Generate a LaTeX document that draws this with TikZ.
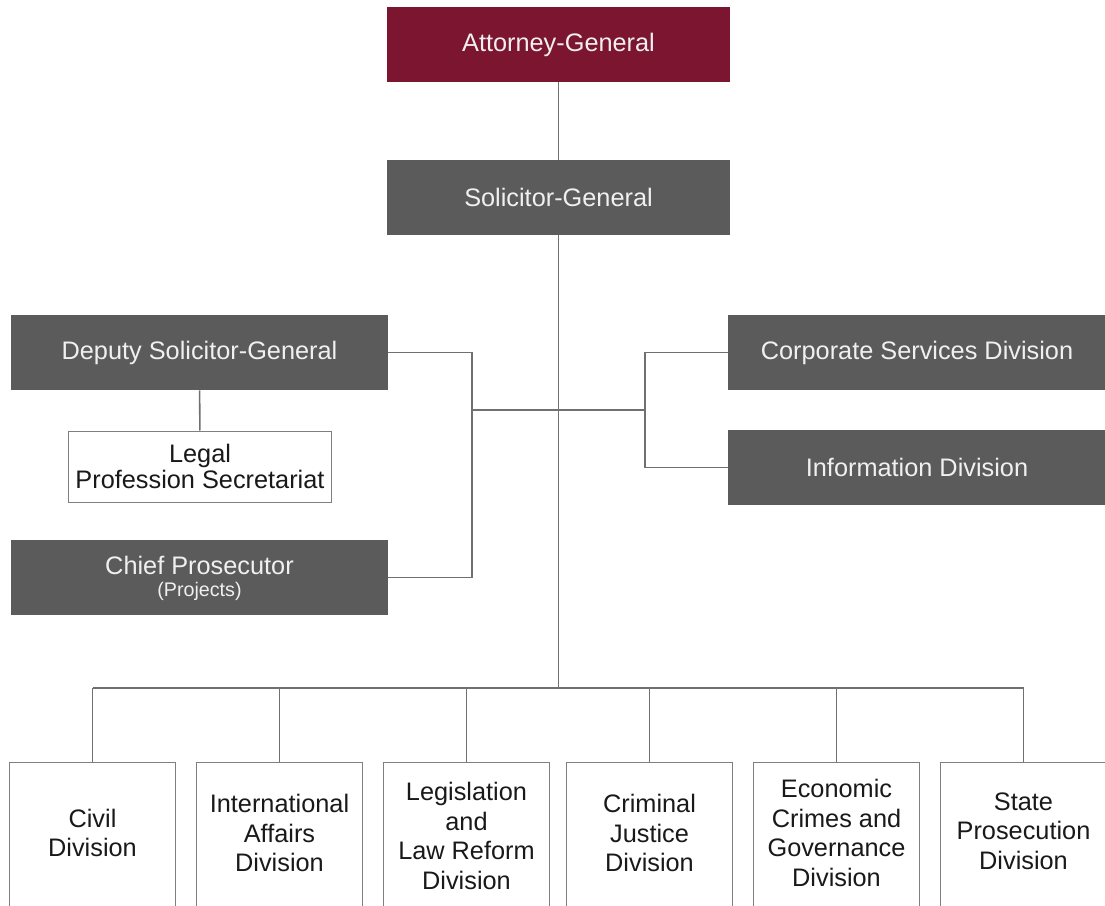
\documentclass[tikz,border=0pt]{standalone}
\usepackage{fontspec}
\setmainfont{Liberation Sans}
\usetikzlibrary{calc}
\definecolor{agred}{HTML}{7C1530}
\definecolor{offgrey}{HTML}{5B5B5B}
\definecolor{linkgrey}{HTML}{707070}
\definecolor{edgegrey}{HTML}{7F7F7F}
\tikzset{
  link/.style={draw=linkgrey, line width=1.1pt},
  agbox/.style={fill=agred, text=white!94!black, minimum width=8.575cm, minimum height=1.875cm,
    font=\fontsize{18}{21}\selectfont},
  sgbox/.style={fill=offgrey, text=white!94!black, minimum width=8.575cm, minimum height=1.875cm,
    font=\fontsize{18}{21}\selectfont},
  widebox/.style={sgbox, minimum width=9.425cm, align=center},
  secbox/.style={draw=edgegrey, line width=0.7pt, fill=white, minimum width=6.55cm, minimum height=1.775cm,
    align=center, font=\fontsize{18}{19}\selectfont, text=black!90},
  divbox/.style={draw=edgegrey, line width=0.7pt, anchor=north, minimum width=4.125cm, minimum height=4.6cm},
  divtext/.style={align=center, font=\fontsize{18}{21}\selectfont, text=black!90}
}
\begin{document}
\begin{tikzpicture}[x=0.025cm,y=-0.025cm]
				%%%%% START %%%%%
				\def\busy{688}
				\def\divtop{762}
				\def\txtoff{71}
				\useasboundingbox (0,0) rectangle (1105,906);

				\node[agbox] (ag) at (558.5,44.5) {Attorney-General};
				\node[sgbox] (sg) at (558.5,197.5) {Solicitor-General};

				\node[widebox] (dsg) at (199.5,352.5) {Deputy Solicitor-General};
				\node[secbox] (lps) at (200,466.5) {Legal\\Profession Secretariat};
				\node[widebox, minimum height=1.875cm] (cp) at (199.5,577.5)
					{\rule{0pt}{14pt}Chief Prosecutor\\[-5pt]{\fontsize{14}{16}\selectfont (Projects)}};

				\node[widebox] (csd) at (917,352.5) {Corporate Services Division};
				\node[widebox] (inf) at (917,467.5) {Information Division};

				\node[divbox] (civ) at (92.5,\divtop) {};
				\node[divbox] (iad) at (279.5,\divtop) {};
				\node[divbox] (lrd) at (466.5,\divtop) {};
				\node[divbox] (cjd) at (649.5,\divtop) {};
				\node[divbox] (ecg) at (836.5,\divtop) {};
				\node[divbox] (spd) at (1023.5,\divtop) {};

				\node[divtext] (civt) at ($(civ.north)+(0,\txtoff)$) {Civil\\Division};
				\node[divtext] (iadt) at ($(iad.north)+(0,\txtoff)$) {International\\Affairs\\Division};
				\node[divtext] (lrdt) at ($(lrd.north)+(0,\txtoff+3)$) {Legislation\\and\\Law Reform\\Division};
				\node[divtext] (cjdt) at ($(cjd.north)+(0,\txtoff)$) {Criminal\\Justice\\Division};
				\node[divtext] (ecgt) at ($(ecg.north)+(0,\txtoff)$) {Economic\\Crimes and\\Governance\\Division};
				\node[divtext] (spdt) at ($(spd.north)+(0,\txtoff-2)$) {State\\Prosecution\\Division};

				\coordinate (lbar) at (472,410);
				\coordinate (rbar) at (645,410);
				\coordinate (trunk) at (558.5,\busy);

				\draw[link] (ag) -- (sg);
				\draw[link] (sg.south) -- (trunk);
				\draw[link] (dsg) -- (lps);
				\draw[link] (dsg.east) -| (lbar) |- (cp.east);
				\draw[link] (lbar) -- (rbar);
				\draw[link] (csd.west) -| (rbar) |- (inf.west);
				\draw[link] (civ.north |- trunk) -- (spd.north |- trunk);
				\foreach \d in {civ,iad,lrd,cjd,ecg,spd}
					\draw[link] (\d.north |- trunk) -- (\d.north);
				%%%%% START %%%%%
\end{tikzpicture}
\end{document}
